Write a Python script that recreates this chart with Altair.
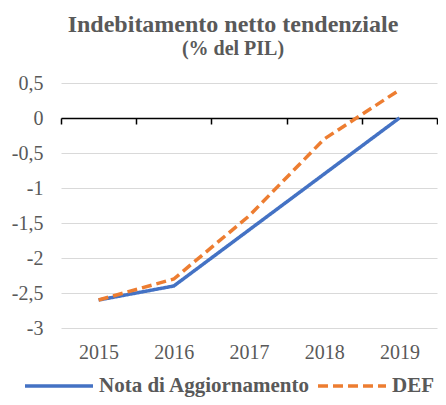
import altair as alt
import pandas as pd

years = [2015, 2016, 2017, 2018, 2019]
nota = [-2.6, -2.4, -1.6, -0.8, 0.0]
def_vals = [-2.6, -2.3, -1.4, -0.3, 0.4]
series_names = ["Nota di Aggiornamento", "DEF"]
y_ticks = [-3, -2.5, -2, -1.5, -1, -0.5, 0, 0.5]
boundaries = [2014.5, 2015.5, 2016.5, 2017.5, 2018.5, 2019.5]

rows = []
for y, a, b in zip(years, nota, def_vals):
    rows.append({"year": y, "value": a, "series": series_names[0]})
    rows.append({"year": y, "value": b, "series": series_names[1]})
df = pd.DataFrame(rows)
bdf = pd.DataFrame({"b": boundaries, "z": [0] * len(boundaries)})

FONT = "Liberation Serif"
GREY = "#595959"

xscale = alt.Scale(domain=[2014.5, 2019.5], nice=False, zero=False)
yscale = alt.Scale(domain=[-3, 0.5], nice=False, zero=False)
yaxis = alt.Axis(values=y_ticks, domain=False, ticks=False, grid=True,
                 gridColor="#D9D9D9", gridWidth=1, labelOverlap=False,
                 labelExpr="(datum.value < 0 ? '-' : '') + replace(toString(abs(datum.value)), '.', ',')",
                 labelFont=FONT, labelFontSize=20, labelColor=GREY, labelPadding=18)

lines = alt.Chart(df).mark_line(strokeCap="butt").encode(
    x=alt.X("year:Q", scale=xscale, title=None,
            axis=alt.Axis(values=years, format="d", orient="bottom", domain=False, ticks=False,
                          grid=False, labelFont=FONT, labelFontSize=20, labelColor=GREY,
                          labelPadding=14)),
    y=alt.Y("value:Q", scale=yscale, title=None, axis=yaxis),
    color=alt.Color("series:N", sort=series_names,
                    scale=alt.Scale(domain=series_names, range=["#4472C4", "#ED7D31"]),
                    legend=alt.Legend(title=None, orient="none", direction="horizontal",
                                      legendX=-38, legendY=267, symbolType="stroke",
                                      symbolSize=4624, symbolStrokeWidth=3.5,
                                      labelFont=FONT, labelFontSize=21, labelFontWeight="bold",
                                      labelColor=GREY, labelOffset=4, columnPadding=0,
                                      labelLimit=400)),
    strokeDash=alt.StrokeDash("series:N", sort=series_names,
                              scale=alt.Scale(domain=series_names, range=[[1, 0], [10, 5]]),
                              legend=None),
    strokeWidth=alt.value(3.5),
)

axis_layer = alt.Chart(bdf).mark_point(opacity=0).encode(
    x=alt.X("b:Q", scale=xscale, title=None,
            axis=alt.Axis(values=boundaries, orient="bottom", labels=False, ticks=True,
                          tickSize=6, tickWidth=1.5, tickColor="black", domain=True,
                          domainColor="black", domainWidth=1.5, grid=False, offset=-210)),
    y=alt.Y("z:Q", scale=yscale, title=None, axis=yaxis),
)

chart = alt.layer(axis_layer, lines).resolve_axis(x="independent").properties(
    width=376, height=245,
    autosize=alt.AutoSizeParams(type="none"),
    padding={"left": 53, "top": 75, "right": 1, "bottom": 69},
    title=alt.TitleParams(text="Indebitamento netto tendenziale", subtitle="(% del PIL)",
                          font=FONT, fontSize=24, fontWeight="bold", color=GREY,
                          subtitleFont=FONT, subtitleFontSize=20, subtitleFontWeight="bold",
                          subtitleColor=GREY, anchor="middle", dx=-16, offset=14,
                          subtitlePadding=2),
).configure_view(stroke=None).configure_title(font=FONT, subtitleFont=FONT)

chart.save("out.html", embed_options={"renderer": "svg", "actions": False})
